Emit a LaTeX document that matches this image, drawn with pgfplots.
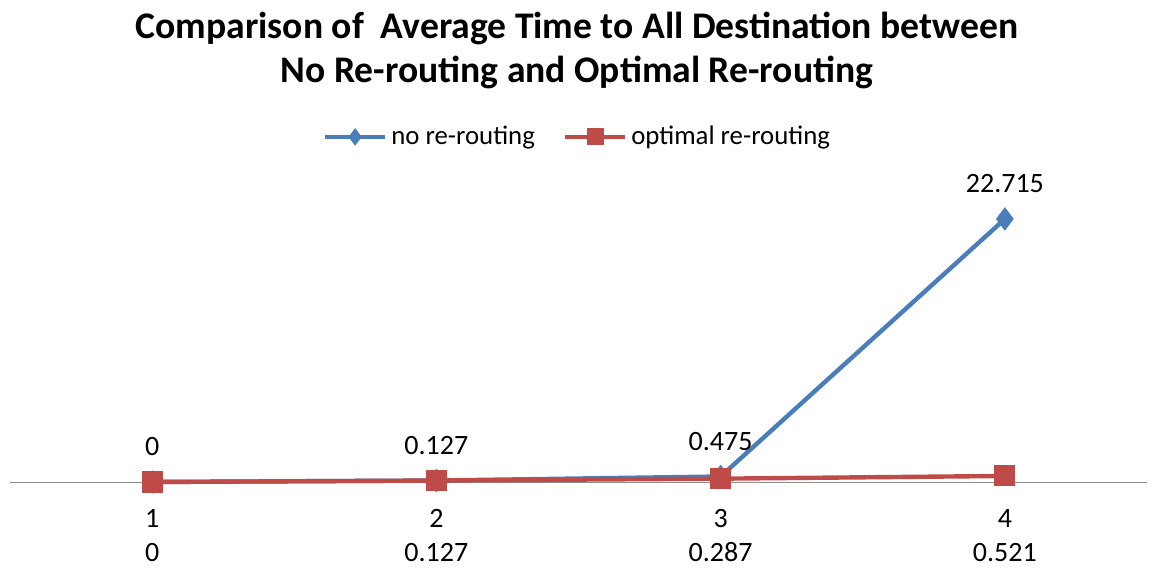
\documentclass[border=0pt]{standalone}
\usepackage{fontspec}
\setmainfont{Carlito}
\usepackage{pgfplots}
\pgfplotsset{compat=1.18}
\definecolor{xblue}{HTML}{4A7EBB}
\definecolor{xred}{HTML}{BE4B48}
\begin{document}
\begin{tikzpicture}
\path[use as bounding box] (0,0) rectangle (574.5bp,284bp);
\node[align=center, font=\fontsize{18.8bp}{22bp}\selectfont\bfseries] at (288.5bp,259bp) {Comparison of\ \ Average Time to All Destination between\\No Re-routing and Optimal Re-routing};
\begin{axis}[
 at={(5bp,43bp)}, anchor=south west,
 scale only axis, width=568.5bp, height=144.75bp,
 xmin=0.5, xmax=4.5, ymin=0, ymax=25,
 axis x line*=bottom, axis y line=none,
 x axis line style={draw=black!45, line width=0.5bp, -},
 xtick={1,2,3,4}, xticklabels={{1\\0},{2\\0.127},{3\\0.287},{4\\0.521}},
 major tick length=0,
 xticklabel style={align=center, anchor=center, yshift=-27bp, font=\fontsize{14bp}{17bp}\selectfont},
 clip=false,
 legend style={at={(0.5,1.192)}, anchor=center, draw=none, legend columns=2, font=\fontsize{13.4bp}{15bp}\selectfont, /tikz/every even column/.append style={column sep=12bp}},
 legend image code/.code={\draw[mark repeat=2,mark phase=2,#1,mark size=4bp] plot coordinates {(0bp,0bp) (15bp,0bp) (30bp,0bp)};},
]
\addplot[xblue, line width=2.2bp, mark=diamond*, mark size=5.5bp, mark options={solid, fill=xblue, line width=0.5bp},
  nodes near coords, point meta=explicit symbolic,
  nodes near coords style={anchor=center, yshift=17.5bp, text=black, font=\fontsize{14bp}{15bp}\selectfont}]
 table[meta=l] {
x y l
1 0 0
2 0.127 0.127
3 0.475 0.475
4 22.715 22.715
};
\addlegendentry{no re-routing}
\addplot[xred, line width=2.2bp, mark=square*, mark size=5bp, mark options={solid, fill=xred, line width=0.5bp}]
 table {
x y
1 0
2 0.127
3 0.287
4 0.521
};
\addlegendentry{optimal re-routing}
\end{axis}
\end{tikzpicture}
\end{document}
